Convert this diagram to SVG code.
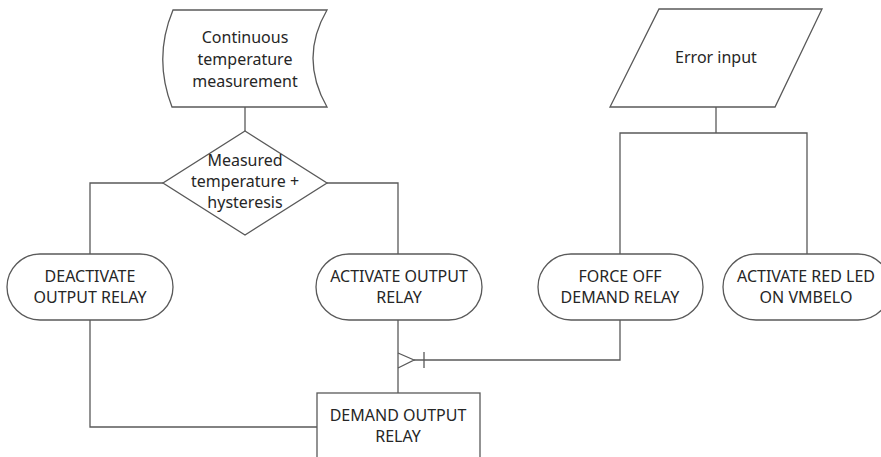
<svg xmlns="http://www.w3.org/2000/svg" width="881" height="457" viewBox="0 0 881 457">
  <style>
    .shape { fill: #ffffff; stroke: #595959; stroke-width: 1.3; }
    .wire { fill: none; stroke: #595959; stroke-width: 1.3; }
    .label { font-family: "Noto Sans", "Liberation Sans", sans-serif; font-size: 16px; fill: #262626; text-anchor: middle; }
  </style>
  <rect width="881" height="457" fill="#ffffff"/>

  <!-- connectors -->
  <g id="connectors">
    <path class="wire" d="M245,107 V131"/>
    <path class="wire" d="M163,183 H90 V254"/>
    <path class="wire" d="M327,183 H398 V254"/>
    <path class="wire" d="M90,320 V427 H317"/>
    <path class="wire" d="M398,320 V393"/>
    <path class="wire" d="M716,107 V133"/>
    <path class="wire" d="M620,254 V133 H807 V254"/>
    <path class="wire" d="M620,320 V360 H414"/>
    <!-- crow's foot end on the relay line -->
    <path class="wire" d="M398,353 L414,360 L398,368"/>
    <path class="wire" d="M424,352 V368"/>
  </g>

  <g id="measurement">
    <path class="shape" d="M173,10 L327,10 Q299,58 327,107 L172,107 Q153,58 173,10 Z"/>
    <text class="label" x="245" y="43">Continuous</text>
    <text class="label" x="245" y="65">temperature</text>
    <text class="label" x="245" y="87">measurement</text>
  </g>

  <g id="decision">
    <path class="shape" d="M245,131 L327,183 L245,235 L163,183 Z"/>
    <text class="label" x="245" y="166">Measured</text>
    <text class="label" x="245" y="187">temperature +</text>
    <text class="label" x="245" y="208">hysteresis</text>
  </g>

  <g id="deactivate">
    <rect class="shape" x="7" y="254" width="166" height="66" rx="33" ry="33"/>
    <text class="label" x="90" y="282">DEACTIVATE</text>
    <text class="label" x="90" y="303">OUTPUT RELAY</text>
  </g>

  <g id="activate">
    <rect class="shape" x="316" y="254" width="166" height="66" rx="33" ry="33"/>
    <text class="label" x="399" y="282">ACTIVATE OUTPUT</text>
    <text class="label" x="399" y="303">RELAY</text>
  </g>

  <g id="demand">
    <rect class="shape" x="317" y="393" width="163" height="80"/>
    <text class="label" x="398" y="421">DEMAND OUTPUT</text>
    <text class="label" x="398" y="442">RELAY</text>
  </g>

  <g id="error-input">
    <path class="shape" d="M659,9 L822,9 L775,107 L610,107 Z"/>
    <text class="label" x="716" y="63">Error input</text>
  </g>

  <g id="force-off">
    <rect class="shape" x="538" y="254" width="165" height="66" rx="33" ry="33"/>
    <text class="label" x="620" y="282">FORCE OFF</text>
    <text class="label" x="620" y="303">DEMAND RELAY</text>
  </g>

  <g id="red-led">
    <rect class="shape" x="723" y="254" width="168" height="66" rx="33" ry="33"/>
    <text class="label" x="806" y="282">ACTIVATE RED LED</text>
    <text class="label" x="806" y="303">ON VMBELO</text>
  </g>
</svg>
